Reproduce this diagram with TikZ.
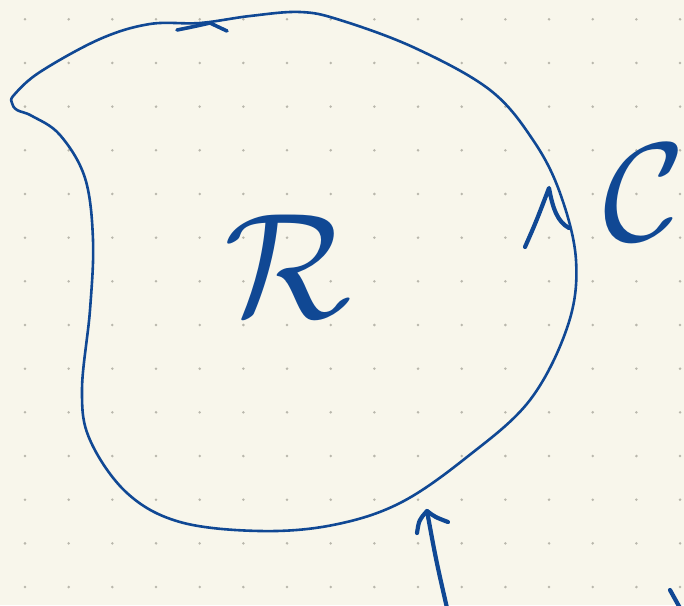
\documentclass[tikz,border=0pt]{standalone}
\usetikzlibrary{positioning}
\definecolor{PaperCream}{RGB}{248,246,235}
\definecolor{InkBlue}{RGB}{16,72,148}
\definecolor{DotGray}{RGB}{185,183,172}
\tikzset{
  ink/.style={draw=InkBlue, line width=2.6pt, line cap=round, line join=round},
  thickink/.style={ink, line width=4.2pt},
  griddot/.style={fill=DotGray},
  letter/.style={text=InkBlue, inner sep=0pt}
}
\begin{document}
\begin{tikzpicture}[x=1pt,y=-1pt]
  \fill[PaperCream] (0,0) rectangle (684,605);
  \useasboundingbox (0,0) rectangle (684,605);
  % dotted paper
  \foreach \i in {0,...,15}
    \foreach \j in {0,...,13}
      \fill[griddot] (25+43.67*\i,19.3+43.67*\j) circle (1.4);
  % boundary curve
  \draw[ink] plot[smooth cycle, tension=0.6] coordinates {
    (14,95) (40,72) (100,39) (150,24) (200,23) (250,16) (300,12) (340,20)
    (415,48) (490,90) (533,140) (560,193) (576,260) (568,325) (530,400)
    (467,457) (400,503) (333,525) (260,531) (180,522) (127,493) (90,440)
    (82,390) (90,310) (93,240) (85,178) (60,135) (32,116) (17,110) (12,103)};
  % orientation marks
  \draw[ink, line width=3.6pt] (177,30) .. controls (192,27) .. (210,23) -- (227,31);
  \draw[thickink] (525,247) .. controls (536,222) .. (549,188)
    .. controls (553,210) and (558,222) .. (569,228);
  % labels
  \node[letter, scale=15] (region) at (288,266) {$\mathcal{R}$};
  \node[letter, scale=14] (boundary) at (644,193) {$\mathcal{C}$};
  % pointer from below
  \coordinate (tail) at (447,608);
  \coordinate (tip) at (427,511);
  \draw[thickink] (tail) .. controls (436,560) .. (tip);
  \draw[thickink] (417,533) .. controls (419,520) .. (tip)
    .. controls (435,517) .. (448,522);
  \draw[thickink] (670,590) -- (680,608);
\end{tikzpicture}
\end{document}
